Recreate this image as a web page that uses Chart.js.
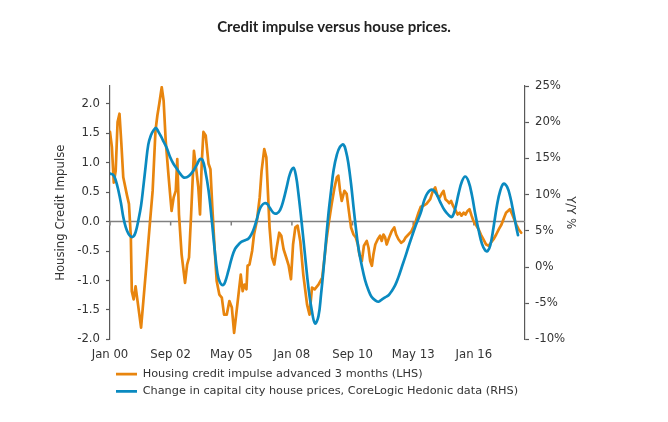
<!DOCTYPE html>
<html>
<head>
<meta charset="utf-8">
<script src="https://cdn.jsdelivr.net/npm/chart.js@4/dist/chart.umd.min.js"></script>
<style>
  html, body { margin: 0; padding: 0; background: #fff; }
  #wrap { width: 668px; height: 422px; position: relative; }
</style>
</head>
<body>
<div id="wrap"><canvas id="chart"></canvas></div>
<script>
// months counted from Jan 2000
const creditMonths = [0, 1, 2, 3, 4, 5, 6, 7, 9, 10, 11, 11.5, 12.5, 13.5, 15, 16.4, 17.6, 19.4, 21, 22.5, 24, 25, 26, 27.3, 28.3, 29.4, 30.8, 31.7, 32.5, 33.6, 34.7, 35.5, 36.4, 37.8, 39.6, 40.7, 41.7, 42.8, 44.3, 45.4, 46.6, 47.5, 48.4, 49.3, 50.5, 52, 53, 54, 55.4, 56.3, 57.7, 59, 60.2, 61.6, 63, 64.3, 65.5, 66.6, 67.8, 69, 70, 71, 72, 72.6, 73.6, 75, 76, 77.5, 79, 80, 81.4, 82.5, 83.3, 84.2, 85.5, 86.7, 88, 89.3, 90.4, 91.6, 93, 94.3, 95.5, 96.6, 97.8, 99, 100.4, 102, 104, 105.3, 106.6, 108, 110, 112, 113, 114.4, 115.6, 117, 118.5, 119.7, 120.5, 121.4, 122.3, 123.7, 124.9, 125.8, 127.2, 128.5, 129.7, 130.8, 131.6, 132.9, 134, 135.5, 136.4, 137.3, 138.2, 139, 140, 141.3, 142.5, 143.4, 144.3, 145.2, 146, 147.3, 148.7, 150, 151, 152.2, 153.6, 155, 156, 157.5, 159, 160, 161.4, 162.8, 164, 165.5, 167, 169, 170.4, 171.6, 172.8, 174, 175, 176, 177, 178, 179, 180, 181, 182, 183.4, 184.5, 185.5, 186.6, 187.6, 188.7, 189.7, 190.8, 191.8, 193, 194.5, 195.7, 197, 198.5, 199.8, 201, 202.4, 203.8, 205.2, 206.6, 208, 209, 210, 211, 212.3, 213.3, 214.4, 215.6, 217];
const creditImpulse = [1.52, 1.26, 0.66, 0.86, 1.69, 1.83, 1.32, 0.75, 0.44, 0.30, -0.27, -1.18, -1.32, -1.10, -1.46, -1.80, -1.35, -0.67, -0.05, 0.52, 1.54, 1.80, 2.00, 2.28, 2.05, 1.37, 0.81, 0.47, 0.18, 0.41, 0.52, 1.06, 0.12, -0.56, -1.04, -0.73, -0.61, 0.12, 1.20, 0.92, 0.58, 0.12, 0.98, 1.52, 1.46, 0.98, 0.89, 0.24, -0.56, -1.01, -1.24, -1.29, -1.58, -1.58, -1.35, -1.46, -1.89, -1.58, -1.24, -0.90, -1.18, -1.07, -1.15, -0.75, -0.73, -0.50, -0.22, 0.01, 0.41, 0.86, 1.23, 1.09, 0.52, -0.10, -0.61, -0.73, -0.44, -0.19, -0.24, -0.47, -0.61, -0.75, -0.98, -0.39, -0.10, -0.07, -0.33, -0.90, -1.41, -1.58, -1.12, -1.15, -1.07, -0.95, -0.67, -0.27, 0.01, 0.30, 0.58, 0.75, 0.78, 0.52, 0.35, 0.52, 0.47, 0.24, -0.10, -0.22, -0.27, -0.39, -0.56, -0.67, -0.41, -0.33, -0.44, -0.67, -0.75, -0.56, -0.39, -0.30, -0.24, -0.33, -0.22, -0.27, -0.39, -0.27, -0.16, -0.10, -0.22, -0.30, -0.36, -0.33, -0.27, -0.22, -0.17, -0.10, 0.01, 0.15, 0.25, 0.27, 0.30, 0.38, 0.52, 0.58, 0.44, 0.41, 0.47, 0.52, 0.38, 0.35, 0.31, 0.35, 0.27, 0.21, 0.12, 0.15, 0.10, 0.15, 0.12, 0.18, 0.21, 0.10, 0.01, -0.05, -0.13, -0.22, -0.30, -0.39, -0.41, -0.36, -0.30, -0.22, -0.13, -0.05, 0.07, 0.15, 0.18, 0.21, 0.12, 0.04, -0.05, -0.13, -0.19];

const priceMonths = [0, 1.8, 3, 4.4, 5.8, 7, 8.3, 9.7, 11, 12.3, 13.5, 15, 16.4, 17.6, 18.8, 20.2, 21.6, 23, 24.3, 25.5, 27, 28.3, 30, 31.7, 33.4, 35.2, 37, 38.7, 40.5, 42.2, 44, 45.8, 47.5, 48.8, 50.2, 52, 53.7, 55, 56.7, 58, 59.5, 60.7, 62.5, 64.2, 66, 67.8, 69.5, 71.3, 73, 74.8, 76.2, 77.4, 78.9, 80.1, 81.5, 83, 84.5, 86.2, 88, 89.8, 91.5, 93.3, 95, 96.8, 98.2, 99.4, 101.2, 103, 104.7, 106.5, 108.2, 110, 111.4, 112.6, 114, 115.3, 116.7, 118, 119.7, 121.4, 123.2, 124.6, 125.8, 127.2, 128.5, 129.7, 131, 133, 134.6, 136.4, 138, 140, 141.7, 143.4, 145.2, 147, 148.7, 150.5, 152.2, 154, 155.8, 157.5, 159.3, 161, 162.5, 164, 165.8, 167.5, 169.8, 172, 174.2, 176.4, 178.6, 180.4, 182, 184, 185.7, 187.4, 189.2, 191, 192.7, 194.5, 196.3, 198, 199.3, 200.7, 202.4, 204.2, 206, 207.7, 209.5, 211.2, 213, 214.4, 215.3];
const priceGrowth = [12.9, 12.7, 12.0, 10.6, 8.8, 6.9, 5.5, 4.6, 4.2, 4.2, 4.8, 6.5, 8.5, 11.1, 13.9, 16.9, 18.2, 18.9, 19.2, 18.7, 18.0, 17.3, 16.4, 15.2, 14.3, 13.6, 12.9, 12.4, 12.4, 12.7, 13.3, 14.1, 14.9, 14.8, 13.4, 10.6, 6.5, 3.0, -0.9, -2.1, -2.5, -2.1, -0.5, 1.2, 2.5, 3.1, 3.5, 3.7, 3.9, 4.6, 5.5, 6.5, 7.9, 8.5, 8.8, 8.7, 8.1, 7.5, 7.4, 7.9, 9.2, 11.1, 12.9, 13.7, 12.5, 10.2, 6.0, 1.4, -2.8, -6.0, -7.8, -6.8, -3.7, -0.5, 3.7, 7.4, 10.6, 13.4, 15.5, 16.6, 16.9, 15.9, 14.3, 11.5, 8.3, 5.5, 2.8, 0.0, -1.8, -3.2, -4.1, -4.6, -4.8, -4.5, -4.2, -3.9, -3.3, -2.5, -1.4, 0.0, 1.4, 2.8, 4.2, 5.5, 6.5, 7.5, 9.2, 10.2, 10.7, 10.2, 9.0, 7.9, 7.2, 6.9, 7.9, 10.2, 11.8, 12.5, 11.8, 9.9, 7.4, 5.1, 3.2, 2.3, 2.2, 3.0, 5.5, 8.5, 10.6, 11.5, 11.1, 9.7, 7.4, 5.5, 4.4];

const tickMonths = [0, 32, 64, 96, 128, 160, 192];
const tickLabels = ['Jan 00', 'Sep 02', 'May 05', 'Jan 08', 'Sep 10', 'May 13', 'Jan 16'];

const ORANGE = '#E8850E';
const BLUE = '#0A8AC0';
const AXIS = '#595959';
const TEXT = '#333333';
const tickFont = { family: 'DejaVu Sans', size: 11.7 };

// grey zero line of the LHS axis with small date ticks hanging off it
const zeroLine = {
    id: 'zeroLine',
    beforeDatasetsDraw(chart) {
        const { ctx, chartArea, scales } = chart;
        const py = scales.y.getPixelForValue(0);
        ctx.save();
        ctx.strokeStyle = '#808080';
        ctx.lineWidth = 1.5;
        ctx.beginPath();
        ctx.moveTo(chartArea.left, py);
        ctx.lineTo(chartArea.right, py);
        scales.x.ticks.forEach(t => {
            const px = scales.x.getPixelForValue(t.value);
            ctx.moveTo(px, py);
            ctx.lineTo(px, py + 4);
        });
        ctx.stroke();
        ctx.restore();
    }
};

new Chart(document.getElementById('chart'), {
    type: 'line',
    data: {
        datasets: [{
            label: 'Housing credit impulse advanced 3 months (LHS)',
            data: creditMonths.map((m, i) => ({ x: m, y: creditImpulse[i] })),
            yAxisID: 'y',
            borderColor: ORANGE,
            backgroundColor: ORANGE,
            borderWidth: 2.7,
            tension: 0,
            order: 2
        }, {
            label: 'Change in capital city house prices, CoreLogic Hedonic data (RHS)',
            data: priceMonths.map((m, i) => ({ x: m, y: priceGrowth[i] })),
            yAxisID: 'y1',
            borderColor: BLUE,
            backgroundColor: BLUE,
            borderWidth: 2.7,
            tension: 0.4,
            order: 1
        }]
    },
    options: {
        responsive: true,
        maintainAspectRatio: false,
        animation: false,
        elements: { point: { radius: 0 }, line: { borderJoinStyle: 'round', borderCapStyle: 'round' } },
        layout: { padding: { left: 0, right: 0, top: 0, bottom: 15 } },
        plugins: {
            tooltip: { enabled: false },
            title: {
                display: true,
                text: 'Credit impulse versus house prices.',
                color: '#222',
                font: { family: 'Lato', weight: 'bold', size: 15 },
                padding: { top: 18, bottom: 50 }
            },
            legend: {
                position: 'bottom',
                align: 'start',
                fullSize: false,
                labels: {
                    usePointStyle: true,
                    pointStyle: 'line',
                    pointStyleWidth: 21,
                    padding: 6,
                    color: TEXT,
                    font: { family: 'DejaVu Sans', size: 11.3 },
                    sort: (a, b) => a.datasetIndex - b.datasetIndex
                }
            }
        },
        scales: {
            x: {
                type: 'linear',
                min: 0,
                max: 219,
                afterBuildTicks: s => { s.ticks = tickMonths.map(v => ({ value: v })); },
                afterFit: s => { s.height = 23; },
                ticks: {
                    callback: (v, i) => tickLabels[i],
                    autoSkip: false,
                    maxRotation: 0,
                    padding: 9,
                    color: TEXT,
                    font: tickFont
                },
                grid: { display: false, drawTicks: false },
                border: { display: false }
            },
            y: {
                position: 'left',
                min: -2,
                max: 2.3,
                afterBuildTicks: s => { s.ticks = s.ticks.filter(t => t.value <= 2.0001); },
                afterFit: s => { s.width = 110; },
                ticks: {
                    stepSize: 0.5,
                    callback: v => v.toFixed(1),
                    padding: 6,
                    color: TEXT,
                    font: tickFont
                },
                grid: { drawOnChartArea: false, tickLength: 4, tickColor: AXIS, tickWidth: 1.2 },
                border: { color: AXIS, width: 1.2 },
                title: {
                    display: true,
                    text: 'Housing Credit Impulse',
                    color: TEXT,
                    font: { family: 'DejaVu Sans', size: 11.7 },
                    padding: { top: 54, bottom: 0 }
                }
            },
            y1: {
                position: 'right',
                min: -10,
                max: 25,
                afterFit: s => { s.width = 143; },
                ticks: {
                    stepSize: 5,
                    callback: v => v + '%',
                    padding: 6,
                    color: TEXT,
                    font: tickFont
                },
                grid: { drawOnChartArea: false, tickLength: 4, tickColor: AXIS, tickWidth: 1.2 },
                border: { color: AXIS, width: 1.2 },
                title: {
                    display: true,
                    text: 'Y/Y %',
                    color: TEXT,
                    font: { family: 'DejaVu Sans', size: 11.7 },
                    padding: { top: 91, bottom: 0 }
                }
            }
        }
    },
    plugins: [zeroLine]
});
</script>
</body>
</html>
